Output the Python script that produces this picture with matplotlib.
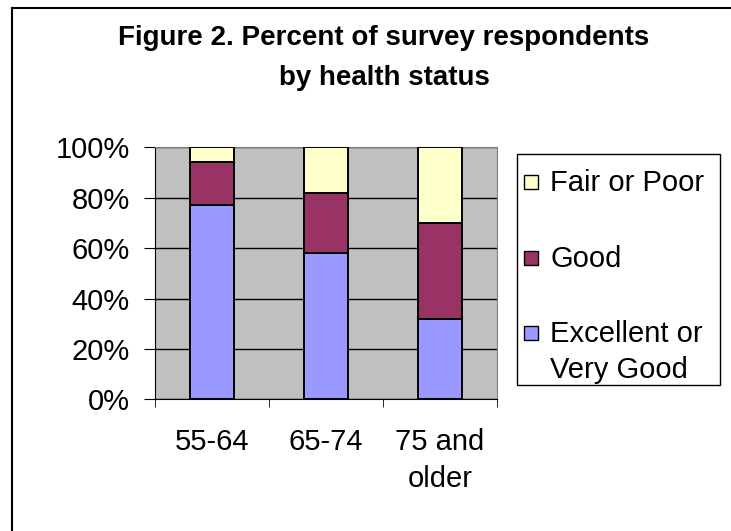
import matplotlib
matplotlib.use("Agg")
import matplotlib.pyplot as plt
from matplotlib.lines import Line2D
from matplotlib.patches import Rectangle
from matplotlib.ticker import PercentFormatter, FixedLocator

plt.rcParams['font.family'] = ['Liberation Sans', 'DejaVu Sans']

# data (percent)
groups = ['55-64', '65-74', '75 and\nolder']
excellent = [77, 58, 32]
good = [17, 24, 38]
fair = [6, 18, 30]

series_names = ['Excellent or\nVery Good', 'Good', 'Fair or Poor']
colors = ['#9999FF', '#993366', '#FFFFCC']

W, H = 731, 531
fig = plt.figure(figsize=(W / 100, H / 100), dpi=100)
ax = fig.add_axes([155/W, 1-399.3/H, 342/W, 252/H])
ax.set_facecolor('#C0C0C0')

x = list(range(len(groups)))
w = 0.39
bottom = [0] * len(groups)
for vals, c, name in zip([excellent, good, fair], colors, series_names):
    ax.bar(x, vals, w, bottom=bottom, color=c, edgecolor='black', linewidth=1.4,
           label=name, zorder=3)
    bottom = [b + v for b, v in zip(bottom, vals)]

ax.set_xlim(-0.5, len(groups) - 0.5)
ax.set_ylim(0, 100)
ax.set_yticks(range(0, 101, 20))
ax.yaxis.set_major_formatter(PercentFormatter(decimals=0))
ax.grid(axis='y', color='black', linewidth=1, zorder=1)
ax.set_xticks(x)
ax.set_xticklabels(groups)
for t in ax.get_xticklabels():
    t.set_linespacing(1.4)
ax.xaxis.set_minor_locator(FixedLocator([i - 0.5 for i in range(len(groups) + 1)]))
ax.tick_params(axis='x', which='major', length=0, pad=21, labelsize=21)
ax.tick_params(axis='x', which='minor', length=6, direction='out', color='black')
ax.tick_params(axis='y', length=8, direction='out', pad=10, labelsize=21)
for s in ['top', 'right']:
    ax.spines[s].set_color('#808080')
for s in ['left', 'bottom']:
    ax.spines[s].set_color('black')

# legend drawn by hand so the square sits on the first line of a wrapped label
fig.add_artist(Rectangle((517/W, 1-385/H), 203/W, 231/H, transform=fig.transFigure,
                         facecolor='white', edgecolor='black', linewidth=1))
entry_y = [182, 258, 333]
for yy, c, name in zip(entry_y, colors[::-1], series_names[::-1]):
    fig.add_artist(Rectangle((524/W, 1-(yy+7)/H), 14/W, 14/H, transform=fig.transFigure,
                             facecolor=c, edgecolor='black', linewidth=1))
    fig.text(550/W, 1-(yy-13)/H, name, ha='left', va='top', fontsize=21,
             linespacing=1.38)

fig.text(384/W, 1-58/H, 'Figure 2. Percent of survey respondents\nby health status',
         ha='center', va='center', fontsize=20, fontweight='bold', linespacing=1.7)

# outer frame (only top and left edges visible)
fig.add_artist(Line2D([12/W, 12/W], [0, 1-8/H], transform=fig.transFigure,
                      color='black', linewidth=1.5))
fig.add_artist(Line2D([12/W, 1], [1-8/H, 1-8/H], transform=fig.transFigure,
                      color='black', linewidth=1.5))

fig.savefig('out.png', dpi=100)
